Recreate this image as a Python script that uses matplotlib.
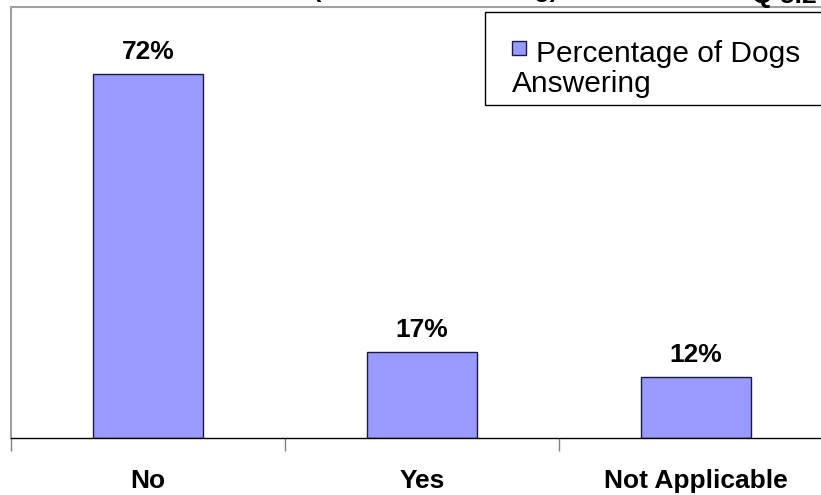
import matplotlib
matplotlib.use("Agg")
import matplotlib.pyplot as plt
from matplotlib.patches import Rectangle

categories = ["No", "Yes", "Not Applicable"]
values = [72, 17, 12]
value_labels = ["72%", "17%", "12%"]
legend_label_lines = ["Percentage of Dogs", "Answering"]

W, H = 821, 495
plt.rcParams['font.family'] = ['Liberation Sans', 'DejaVu Sans']
fig = plt.figure(figsize=(W / 100, H / 100), dpi=100)

def fx(px):
    return px / W

def fy(py):
    return 1 - py / H

# axes: x from 11 px to 833 px (extends past the right edge), y from 7 to 438
ax = fig.add_axes([fx(11), fy(438), (833 - 11) / W, (438 - 7) / H])
x = list(range(len(categories)))
bars = ax.bar(x, values, width=0.4, color="#9999FF", edgecolor="#1a1a40", linewidth=1.0)
ax.set_xlim(-0.5, 2.5)
ax.set_ylim(0, 85.2)

for b, lab in zip(bars, value_labels):
    ax.annotate(lab, (b.get_x() + b.get_width() / 2, b.get_height()),
                xytext=(0, 15), textcoords="offset pixels", ha="center", va="baseline",
                fontsize=19, fontweight="bold")

ax.set_xticks([-0.5, 0.5, 1.5, 2.5])
ax.set_xticklabels([])
ax.tick_params(axis="x", length=9, width=1, color="#808080", direction="out")
ax.set_yticks([])
for i, c in enumerate(categories):
    ax.text(i, -0.1, c, transform=ax.get_xaxis_transform(), ha="center", va="center",
            fontsize=19, fontweight="bold")

ax.spines["left"].set_color("#a0a0a0")
ax.spines["top"].set_color("#a0a0a0")
ax.spines["left"].set_linewidth(1.5)
ax.spines["top"].set_linewidth(1.5)
ax.spines["right"].set_visible(False)
ax.spines["bottom"].set_color("black")
ax.spines["bottom"].set_linewidth(1.0)

# partially visible title (cut off at top of the original image)
fig.text(fx(436), fy(-3), "(Number Answering)", ha="center", va="baseline",
         fontsize=18, fontweight="bold")
fig.text(fx(817), fy(3), "Q 5.2", ha="right", va="baseline", fontsize=19, fontweight="bold")

# legend drawn manually
fig.patches.append(Rectangle((fx(485), fy(105)), fx(840) - fx(485), fy(12) - fy(105),
                             transform=fig.transFigure, facecolor="white",
                             edgecolor="black", linewidth=1.0, zorder=5))
fig.patches.append(Rectangle((fx(512), fy(55)), fx(526) - fx(512), fy(41) - fy(55),
                             transform=fig.transFigure, facecolor="#9999FF",
                             edgecolor="#1a1a40", linewidth=1.0, zorder=6))
t1 = fig.text(fx(536), fy(62), legend_label_lines[0], ha="left", va="baseline", fontsize=21.5, zorder=7)
t2 = fig.text(fx(512), fy(92), legend_label_lines[1], ha="left", va="baseline", fontsize=21.5, zorder=7)

fig.savefig("out.png", dpi=100)
